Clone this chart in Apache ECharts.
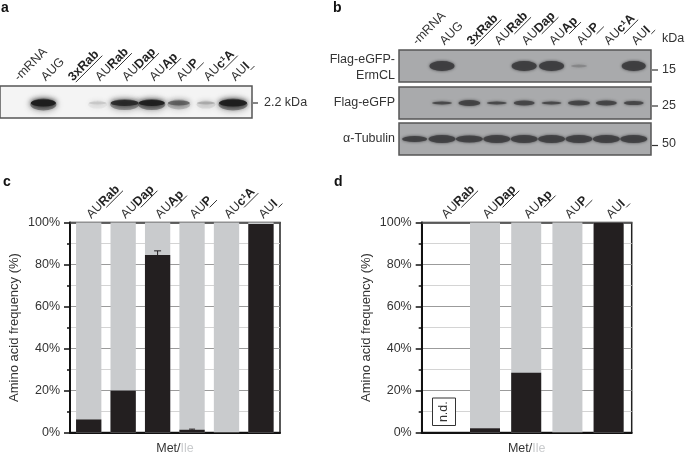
<!DOCTYPE html>
<html><head><meta charset="utf-8">
<style>html,body{margin:0;padding:0;background:#fff}#c{width:685px;height:452px}</style>
<script src="https://cdn.jsdelivr.net/npm/echarts@6/dist/echarts.min.js"></script>
</head><body><div id="c"></div>
<script>
// ---- labels
const blotPlain = ['-mRNA','AUG','','AU','AU','AU','AU','AU','AU'];
const blotBold  = ['','','3xRab','Rab','Dap','Ap','P','c¹A','I'];
const panelCPlain = ['AU','AU','AU','AU','AU','AU'];
const panelCBold  = ['Rab','Dap','Ap','P','c¹A','I'];
const panelDPlain = ['AU','AU','AU','AU','AU'];
const panelDBold  = ['Rab','Dap','Ap','P','I'];
const yTicks = [0,20,40,60,80,100];
const kdaLabels = ['15','25','50'];
// ---- blot band strength (0..1), width, height
const aStrength = [0,0.95,0,0.1,0.75,0.9,0.42,0.18,0.9];
const aWidth    = [0,25,0,18,28,26,22,18,28];
const aHeight   = [0,7,0,3,6,6,5,3,7];
const ermStrength = [0,0.95,0,0,0.95,0.95,0.22,0,0.95];
const ermWidth    = [0,25,0,0,25,25,16,0,24];
const ermHeight   = [0,10,0,0,10,10,3,0,10];
const gfpStrength = [0,0.8,0.85,0.8,0.8,0.8,0.82,0.82,0.8];
const gfpWidth    = [0,20,22,20,21,20,22,21,20];
const gfpHeight   = [0,3,6,3,5,3,5,5,4];
const tubStrength = [0.88,0.88,0.88,0.88,0.88,0.88,0.88,0.88,0.88];
const tubWidth    = [25,27,27,27,27,27,27,27,27];
const tubHeight   = [6,8,7,8,8,8,8,8,8];
// ---- bar values
const cMet = [6.2,20,84.5,1.3,0.2,99.3];
const cIle = [93.8,80,15.5,98.7,99.8,0.7];
const cErr = [0,0,2,0.3,0,0];
const dMet = [0,2,28.5,0.2,100];
const dIle = [0,98,71.5,99.8,0];

const font = '"Liberation Sans", Arial, sans-serif';
const fs = 12.5;
const measure = document.createElement('canvas').getContext('2d');
const w = (t, bold) => { measure.font = (bold?'bold ':'') + fs + 'px "Liberation Sans"'; return measure.measureText(t).width; };

const grids=[], xAxes=[], yAxes=[], series=[];
const rich = { n:{fontSize:fs,fontFamily:font,color:'#333'}, b:{fontSize:fs,fontWeight:'bold',fontFamily:font,color:'#222'} };

function topAxis(grid, min, max, plain, bold, margin){
  const vals = plain.map((_,i)=>i);
  xAxes.push({ gridIndex:grid, type:'value', position:'top', min, max,
    axisLine:{show:true,onZero:false,lineStyle:{color:'#444',width:1.5}}, axisTick:{show:false}, splitLine:{show:false},
    axisLabel: { show:true, rotate:-45, margin, customValues:vals, rich,
      formatter:v=>{ const i=Math.round(v); return (plain[i]?`{n|${plain[i]}}`:'')+(bold[i]?`{b|${bold[i]}}`:''); } } });
  return xAxes.length-1;
}
function underlines(xi, yi, yTop, plain, bold, margin){
  const data = plain.map((_,i)=>[i,yTop]).filter(d=>bold[d[0]]);
  series.push({ type:'custom', xAxisIndex:xi, yAxisIndex:yi, clip:false, silent:true, data,
    renderItem(p,api){
      const i=api.value(0), c=api.coord([i,yTop]);
      const s=w(plain[i],false)+1.5, e=s+w(bold[i],true)+(bold[i].length===1?2:0);
      const q=Math.SQRT1_2, perp=6, ax=c[0], ay=c[1]-margin;
      return {type:'line',shape:{x1:ax+s*q+perp*q,y1:ay-s*q+perp*q,x2:ax+e*q+perp*q,y2:ay-e*q+perp*q},
        style:{stroke:'#333',lineWidth:1}};
    }});
}
function blot(rect, bg, strength, width, height, color, min, max, labelled, halo){
  const g=grids.length;
  grids.push({show:true,outerBoundsMode:'none',left:rect[0],top:rect[1],width:rect[2],height:rect[3],backgroundColor:bg,borderColor:'#555',borderWidth:1.5});
  const xi = labelled ? topAxis(g,min,max,blotPlain,blotBold,labelled)
    : (xAxes.push({gridIndex:g,type:'value',min,max,show:false}),xAxes.length-1);
  yAxes.push({gridIndex:g,type:'value',min:0,max:1,show:false});
  const yi=yAxes.length-1;
  xAxes[xi].axisLine && (xAxes[xi].axisLine.show=false);
  if(halo) series.push({type:'scatter',xAxisIndex:xi,yAxisIndex:yi,clip:false,silent:true,symbol:'circle',
    data:strength.map((s,i)=>({value:[i,0.42],symbolSize:[width[i]+1,height[i]+5],
      itemStyle:{color:color,opacity:s*0.45,shadowBlur:7,shadowColor:color}})).filter(d=>d.itemStyle.opacity>0)});
  series.push({type:'scatter',xAxisIndex:xi,yAxisIndex:yi,clip:false,silent:true,symbol:'circle',
    data:strength.map((s,i)=>({value:[i,halo?0.47:0.5],symbolSize:[width[i],height[i]],
      itemStyle:{color:color,opacity:s,shadowBlur:halo?5:3,shadowColor:color}})).filter(d=>d.itemStyle.opacity>0)});
  if(labelled) underlines(xi,yi,1,blotPlain,blotBold,labelled);
}
blot([0,86,252,32],'#f4f4f4',aStrength,aWidth,aHeight,'#1c1c1c',-0.6,8.7,7,true);
blot([399,50,252,32],'#a9aaac',ermStrength,ermWidth,ermHeight,'#3e3e40',-0.57,8.63,7,false);
blot([399,87,252,32],'#a9aaac',gfpStrength,gfpWidth,gfpHeight,'#3e3e40',-0.57,8.63,0,false);
blot([399,123,252,32],'#a9aaac',tubStrength,tubWidth,tubHeight,'#3e3e40',-0.57,8.63,0,false);

function barPanel(left, min, max, plain, bold, met, ile, err, barW){
  const g=grids.length;
  grids.push({show:true,outerBoundsMode:'none',left,top:222.5,width:210,height:210,backgroundColor:'transparent',borderColor:'#222',borderWidth:1.5});
  const xi=topAxis(g,min,max,plain,bold,6);
  xAxes.push({gridIndex:g,type:'value',position:'bottom',min,max,
    axisLine:{show:true,onZero:false,lineStyle:{color:'#111',width:2}},axisTick:{show:false},axisLabel:{show:false},splitLine:{show:false},
    name:'Met/{ile|Ile}',nameLocation:'middle',nameGap:10,
    nameTextStyle:{fontSize:fs,fontFamily:font,color:'#333',rich:{ile:{fontSize:fs,fontFamily:font,color:'#c9cbcd'}}}});
  yAxes.push({gridIndex:g,type:'value',min:0,max:100,interval:20,
    axisLine:{show:true,onZero:false,lineStyle:{color:'#111',width:2}},
    axisTick:{show:true,length:6,lineStyle:{color:'#111',width:1.5}},
    minorTick:{show:true,splitNumber:2,length:3,lineStyle:{color:'#111',width:1.5}},
    splitLine:{show:true,lineStyle:{color:'#9b9b9b',width:1.2}},
    minorSplitLine:{show:true,lineStyle:{color:'#d4d4d4',width:1}},
    axisLabel:{fontSize:fs,fontFamily:font,color:'#333',margin:10,customValues:yTicks,formatter:'{value}%'},
    name:'Amino acid frequency (%)',nameLocation:'middle',nameGap:49,
    nameTextStyle:{fontSize:13,fontFamily:font,color:'#333'}});
  const yi=yAxes.length-1;
  // the grey part sits on top of the black part: its top is Met + Ile
  series.push({type:'bar',name:'Ile',xAxisIndex:xi,yAxisIndex:yi,barGap:'-100%',barWidth:barW,silent:true,z:3,
    itemStyle:{color:'#c9cbcd'},data:ile.map((v,i)=>[i,met[i]+v])});
  series.push({type:'bar',name:'Met',xAxisIndex:xi,yAxisIndex:yi,barGap:'-100%',barWidth:barW,silent:true,z:3,
    itemStyle:{color:'#231f20'},data:met.map((v,i)=>[i,v])});
  if(err) series.push({type:'custom',xAxisIndex:xi,yAxisIndex:yi,z:4,silent:true,
    data:err.map((e,i)=>[i,met[i],e]).filter(d=>d[2]>0),
    renderItem(p,api){
      const a=api.coord([api.value(0),api.value(1)]), b=api.coord([api.value(0),api.value(1)+api.value(2)]);
      const cap=api.value(2)>1?3.5:3;
      return {type:'group',children:[
        {type:'line',shape:{x1:a[0],y1:a[1],x2:b[0],y2:b[1]},style:{stroke:'#231f20',lineWidth:1}},
        {type:'line',shape:{x1:b[0]-cap,y1:b[1],x2:b[0]+cap,y2:b[1]},style:{stroke:'#231f20',lineWidth:1}}]};
    }});
  underlines(xi,yi,100,plain,bold,6);
}
barPanel(70,-0.543,5.553,panelCPlain,panelCBold,cMet,cIle,cErr,25.3);
barPanel(421.7,-0.536,4.56,panelDPlain,panelDBold,dMet,dIle,null,30);

const txt=(x,y,t,o={})=>({type:'text',x,y,silent:true,z:50,style:Object.assign({text:t,fontSize:fs,fontFamily:font,fill:'#333',textAlign:'left',textVerticalAlign:'middle'},o)});
const dash=(x1,x2,y)=>({type:'line',silent:true,z:50,shape:{x1,y1:y,x2,y2:y},style:{stroke:'#333',lineWidth:1.2}});
const letter={fontSize:14,fontWeight:'bold',fill:'#111'};
const graphic=[
  txt(1,8,'a',letter),txt(333,8,'b',letter),txt(3,182,'c',letter),txt(334,182,'d',letter),
  dash(253,258,103),txt(264,103,'2.2 kDa'),
  txt(662,39,'kDa'),
  dash(652,658,70),txt(662,70,kdaLabels[0]),
  dash(652,658,106),txt(662,106,kdaLabels[1]),
  dash(652,658,145.5),txt(662,144,kdaLabels[2]),
  txt(395,60,'Flag-eGFP-',{textAlign:'right'}),txt(395,76,'ErmCL',{textAlign:'right'}),
  txt(395,103,'Flag-eGFP',{textAlign:'right'}),txt(395,139,'α-Tubulin',{textAlign:'right'}),
  {type:'rect',silent:true,z:50,shape:{x:432.5,y:398,width:23,height:27.5},style:{fill:'#fff',stroke:'#333',lineWidth:1}},
  {type:'text',silent:true,z:51,x:444,y:411.7,rotation:Math.PI/2,style:{text:'n.d.',fontSize:fs,fontFamily:font,fill:'#333',textAlign:'center',textVerticalAlign:'middle'}}
];

const chart=echarts.init(document.getElementById('c'),null,{renderer:'canvas'});
chart.setOption({animation:false,backgroundColor:'#fff',grid:grids,xAxis:xAxes,yAxis:yAxes,series,graphic});
</script></body></html>
